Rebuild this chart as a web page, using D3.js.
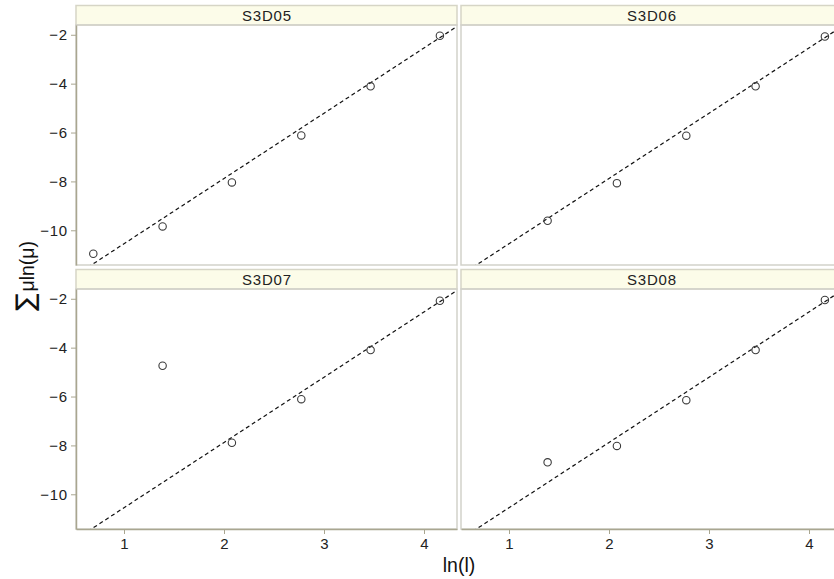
<!DOCTYPE html>
<html>
<head>
<meta charset="utf-8">
<script src="https://cdn.jsdelivr.net/npm/d3@7"></script>
<style>
  html, body { margin: 0; padding: 0; background: #fff; }
  svg { display: block; }
  text { font-family: "Liberation Sans", Arial, Helvetica, sans-serif; }
</style>
</head>
<body>
<svg id="chart" width="834" height="579"></svg>
<script>
// ---- data ----
const panelNames = ["S3D05", "S3D06", "S3D07", "S3D08"];
const lnL = [0.693, 1.386, 2.079, 2.773, 3.466, 4.159];
const s3d05 = [-10.96, -9.84, -8.04, -6.12, -4.11, -2.04];
const s3d06 = [null, -9.61, -8.07, -6.13, -4.11, -2.07];
const s3d07 = [null, -4.74, -7.89, -6.11, -4.10, -2.08];
const s3d08 = [null, -8.69, -8.02, -6.15, -4.10, -2.05];
const refIntercept = -13.22;
const refSlope = 2.67;
const xTicks = [1, 2, 3, 4];
const yTicks = [-10, -8, -6, -4, -2];
const xDomain = [0.52, 4.33];
const yDomain = [-11.42, -1.6];

const seriesList = [s3d05, s3d06, s3d07, s3d08];

// ---- layout ----
const svg = d3.select("#chart");
const colX = [76, 461];
const panelW = 381;
const rowStripTop = [5.5, 269.5];
const stripH = 19.5;
const panelH = 240;
const axisCol = "#a9a690";
const borderCol = "#d2d2ca";

const fmt = d => d3.format("d")(d).replace("-", "\u2212");

panelNames.forEach((name, i) => {
  const col = i % 2, row = Math.floor(i / 2);
  const x0 = colX[col];
  const sTop = rowStripTop[row];
  const pTop = sTop + stripH;
  const pBot = pTop + panelH;

  const x = d3.scaleLinear().domain(xDomain).range([x0, x0 + panelW]);
  const y = d3.scaleLinear().domain(yDomain).range([pBot, pTop]);

  const g = svg.append("g");

  const clipId = "clip" + i;
  svg.append("clipPath").attr("id", clipId)
    .append("rect").attr("x", x0).attr("y", pTop).attr("width", panelW).attr("height", panelH);

  // strip
  g.append("rect")
    .attr("x", x0).attr("y", sTop).attr("width", panelW).attr("height", stripH)
    .attr("fill", "#fcfce9").attr("stroke", "#d6d5c6").attr("stroke-width", 1.5);
  g.append("text")
    .attr("x", x0 + panelW / 2 + 0.4).attr("y", sTop + stripH / 2 + 0.5)
    .attr("text-anchor", "middle").attr("dominant-baseline", "central")
    .attr("font-size", 15).attr("letter-spacing", 0.8).attr("fill", "#222").text(name);

  // panel border
  g.append("rect")
    .attr("x", x0).attr("y", pTop).attr("width", panelW).attr("height", panelH)
    .attr("fill", "none").attr("stroke", borderCol).attr("stroke-width", 1.5);

  // reference line
  const lineData = xDomain.map(v => ({ x: v, y: refIntercept + refSlope * v }));
  g.append("path")
    .datum(lineData)
    .attr("clip-path", `url(#${clipId})`)
    .attr("d", d3.line().x(d => x(d.x)).y(d => y(d.y)))
    .attr("fill", "none").attr("stroke", "#111").attr("stroke-width", 1.2)
    .attr("stroke-dasharray", "4,3");

  // points
  const pts = lnL.map((v, k) => ({ x: v, y: seriesList[i][k] })).filter(d => d.y !== null);
  g.append("g").attr("clip-path", `url(#${clipId})`)
    .selectAll("circle").data(pts).enter().append("circle")
    .attr("cx", d => x(d.x)).attr("cy", d => y(d.y)).attr("r", 3.7)
    .attr("fill", "none").attr("stroke", "#3a3a3a").attr("stroke-width", 1.1);

  // left axis
  if (col === 0) {
    const ax = g.append("g").attr("transform", `translate(${x0},0)`)
      .call(d3.axisLeft(y).tickValues(yTicks).tickFormat(fmt).tickSize(5).tickSizeOuter(0).tickPadding(3));
    ax.select(".domain").attr("stroke", axisCol).attr("stroke-width", 1.5);
    ax.selectAll(".tick line").attr("stroke", axisCol);
    ax.selectAll(".tick text").attr("font-size", 15).attr("fill", "#222")
      .attr("letter-spacing", 0.8)
      .attr("font-family", "'Liberation Sans', Arial, sans-serif");
  }
  // bottom axis
  if (row === 1) {
    const ax = g.append("g").attr("transform", `translate(0,${pBot})`)
      .call(d3.axisBottom(x).tickValues(xTicks).tickFormat(fmt).tickSize(5).tickSizeOuter(0).tickPadding(4));
    ax.select(".domain").attr("stroke", axisCol).attr("stroke-width", 1.5);
    ax.selectAll(".tick line").attr("stroke", axisCol);
    ax.selectAll(".tick text").attr("font-size", 15).attr("fill", "#222")
      .attr("font-family", "'Liberation Sans', Arial, sans-serif");
  }
});

// axis titles
svg.append("text")
  .attr("x", 459).attr("y", 572)
  .attr("text-anchor", "middle").attr("font-size", 19.5).attr("fill", "#111")
  .text("ln(l)");

const yl = svg.append("text")
  .attr("transform", "translate(34,276) rotate(-90)")
  .attr("text-anchor", "middle").attr("fill", "#111");
yl.append("tspan").attr("font-size", 26).attr("font-family", "'DejaVu Sans', sans-serif").text("\u2211");
yl.append("tspan").attr("font-size", 19.5).attr("dx", 2).text("\u03bcln(\u03bc)");
</script>
</body>
</html>
